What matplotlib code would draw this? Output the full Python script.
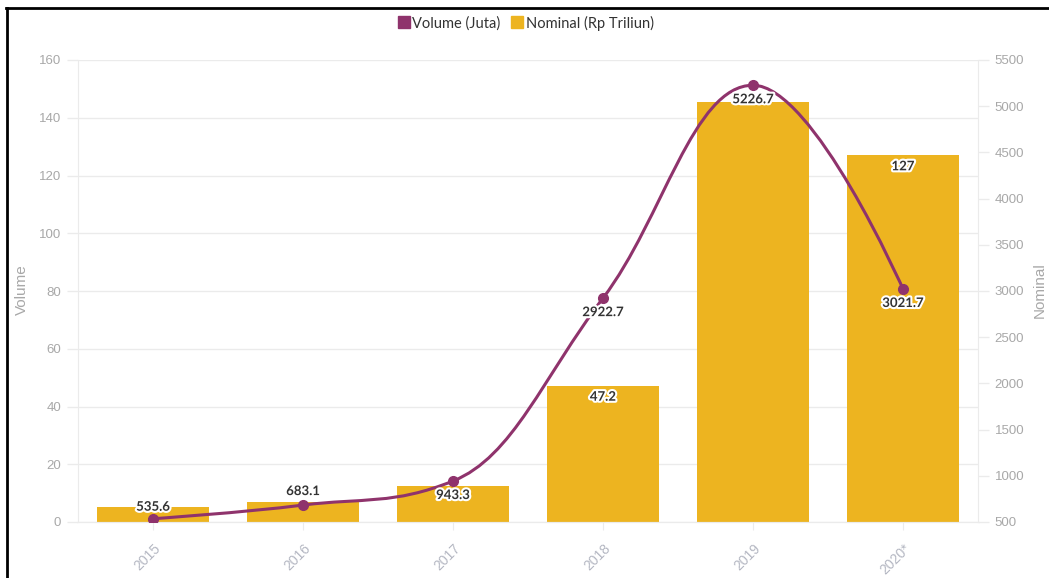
import numpy as np
import matplotlib
matplotlib.use("Agg")
import matplotlib.pyplot as plt
import matplotlib.patheffects as pe
from matplotlib.path import Path
from matplotlib.patches import PathPatch
from matplotlib.lines import Line2D

# ---- data ----
years = ["2015", "2016", "2017", "2018", "2019", "2020*"]
bar_values = [5.2, 6.9, 12.5, 47.2, 145.5, 127]          # left axis (Volume)
line_values = [535.6, 683.1, 943.3, 2922.7, 5226.7, 3021.7]  # right axis (Nominal)
bar_label_text = ["", "", "", "47.2", "", "127"]
legend_labels = ["Volume (Juta)", "Nominal (Rp Triliun)"]

BAR_C = "#EDB420"
LINE_C = "#8F336C"
TICK_C = "#A8A8A8"
GRID_C = "#EBEBEB"

W, H = 1049, 578
fig = plt.figure(figsize=(W / 100, H / 100), dpi=100)
L, R, T, B = 78, 978, 60, 522
ax = fig.add_axes([L / W, 1 - B / H, (R - L) / W, (B - T) / H])
ax2 = ax.twinx()

x = np.arange(len(years))
ax.bar(x, bar_values, width=0.75, color=BAR_C, zorder=2)
ax.set_xlim(-0.5, len(years) - 0.5)
ax.set_ylim(0, 160)
ax.set_yticks(np.arange(0, 161, 20))
ax2.set_ylim(500, 5500)
ax2.set_yticks(np.arange(500, 5501, 500))
ax.grid(axis="y", color=GRID_C, lw=1, zorder=0)
ax.set_axisbelow(True)

for a in (ax, ax2):
    a.spines["top"].set_visible(False)
    a.spines["left"].set_color(GRID_C)
    a.spines["right"].set_color(GRID_C)
    a.spines["bottom"].set_color(GRID_C)
ax.spines["right"].set_visible(False)
ax2.spines["left"].set_visible(False)

ax.tick_params(axis="y", length=8, width=1, color=GRID_C, pad=4, labelsize=9.5, labelcolor=TICK_C)
ax2.tick_params(axis="y", length=8, width=1, color=GRID_C, pad=4, labelsize=9.5, labelcolor=TICK_C)
for t in ax.get_yticklabels() + ax2.get_yticklabels():
    t.set_family("Liberation Sans")
ax.set_xticks(x)
ax.set_xticklabels(years, rotation=45, ha="right", va="top", rotation_mode="anchor",
                   family="Liberation Sans", fontsize=10, color="#B4B7C2")
ax.tick_params(axis="x", length=6, color=GRID_C, pad=8)
fig.text(22 / W, 1 - 290 / H, "Volume", rotation=90, ha="center", va="center",
         family="Liberation Sans", fontsize=11, color=TICK_C)
fig.text(1040 / W, 1 - 290 / H, "Nominal", rotation=90, ha="center", va="center",
         family="Liberation Sans", fontsize=11, color=TICK_C)

# Highcharts-like spline through line points
xs = x.astype(float)
ys = np.array(line_values, dtype=float)
sm, den = 1.5, 2.5
verts = [(xs[0], ys[0])]
codes = [Path.MOVETO]
ctrl = []
for i in range(len(xs)):
    if 0 < i < len(xs) - 1:
        lx = (sm * xs[i] + xs[i - 1]) / den
        ly = (sm * ys[i] + ys[i - 1]) / den
        rx = (sm * xs[i] + xs[i + 1]) / den
        ry = (sm * ys[i] + ys[i + 1]) / den
        if rx != lx:
            corr = ((ry - ly) * (rx - xs[i])) / (rx - lx) + ys[i] - ry
            ly += corr
            ry += corr
        if ly > ys[i - 1] and ly > ys[i]:
            ly = max(ys[i - 1], ys[i]); ry = 2 * ys[i] - ly
        elif ly < ys[i - 1] and ly < ys[i]:
            ly = min(ys[i - 1], ys[i]); ry = 2 * ys[i] - ly
        if ry > ys[i + 1] and ry > ys[i]:
            ry = max(ys[i + 1], ys[i]); ly = 2 * ys[i] - ry
        elif ry < ys[i + 1] and ry < ys[i]:
            ry = min(ys[i + 1], ys[i]); ly = 2 * ys[i] - ry
        ctrl.append(((lx, ly), (rx, ry)))
    else:
        ctrl.append(((xs[i], ys[i]), (xs[i], ys[i])))
for i in range(1, len(xs)):
    verts += [ctrl[i - 1][1], ctrl[i][0], (xs[i], ys[i])]
    codes += [Path.CURVE4, Path.CURVE4, Path.CURVE4]
ax2.add_patch(PathPatch(Path(verts, codes), fill=False, ec=LINE_C, lw=2.2, zorder=3,
                        capstyle="round"))
ax2.plot(xs, ys, "o", color=LINE_C, ms=7, zorder=4)

stroke = [pe.withStroke(linewidth=3, foreground="white")]
lab_font = dict(family="Lato", fontsize=9.5, fontweight="bold", color="#333333")
line_offsets = [12, 14, -14, -14, -14, -14]
for xi, yi, off in zip(xs, ys, line_offsets):
    ax2.annotate(f"{yi:g}", (xi, yi), xytext=(0, off), textcoords="offset pixels",
                 ha="center", va="center", zorder=6, path_effects=stroke, **lab_font)
for xi, bv, txt in zip(xs, bar_values, bar_label_text):
    if txt:
        ax.annotate(txt, (xi, bv), xytext=(0, -11), textcoords="offset pixels",
                    ha="center", va="center", zorder=6, path_effects=stroke, **lab_font)
ax2.set_zorder(ax.get_zorder() + 1)
ax2.patch.set_visible(False)

# legend
handles = [Line2D([], [], marker="s", ls="", color=LINE_C, ms=9),
           Line2D([], [], marker="s", ls="", color=BAR_C, ms=9)]
fig.legend(handles, legend_labels, loc="center", bbox_to_anchor=(525 / W, 1 - 23 / H),
           ncol=2, frameon=False, prop=dict(family="Lato", size=10.5),
           handletextpad=0.1, columnspacing=0.6, handlelength=1.0, labelcolor="#333333")

# outer frame
fig.add_artist(Line2D([7 / W, 7 / W], [0, 1 - 8 / H], color="black", lw=2, transform=fig.transFigure))
fig.add_artist(Line2D([6 / W, 1], [1 - 8 / H, 1 - 8 / H], color="black", lw=2, transform=fig.transFigure))

fig.savefig("out.png", dpi=100)
